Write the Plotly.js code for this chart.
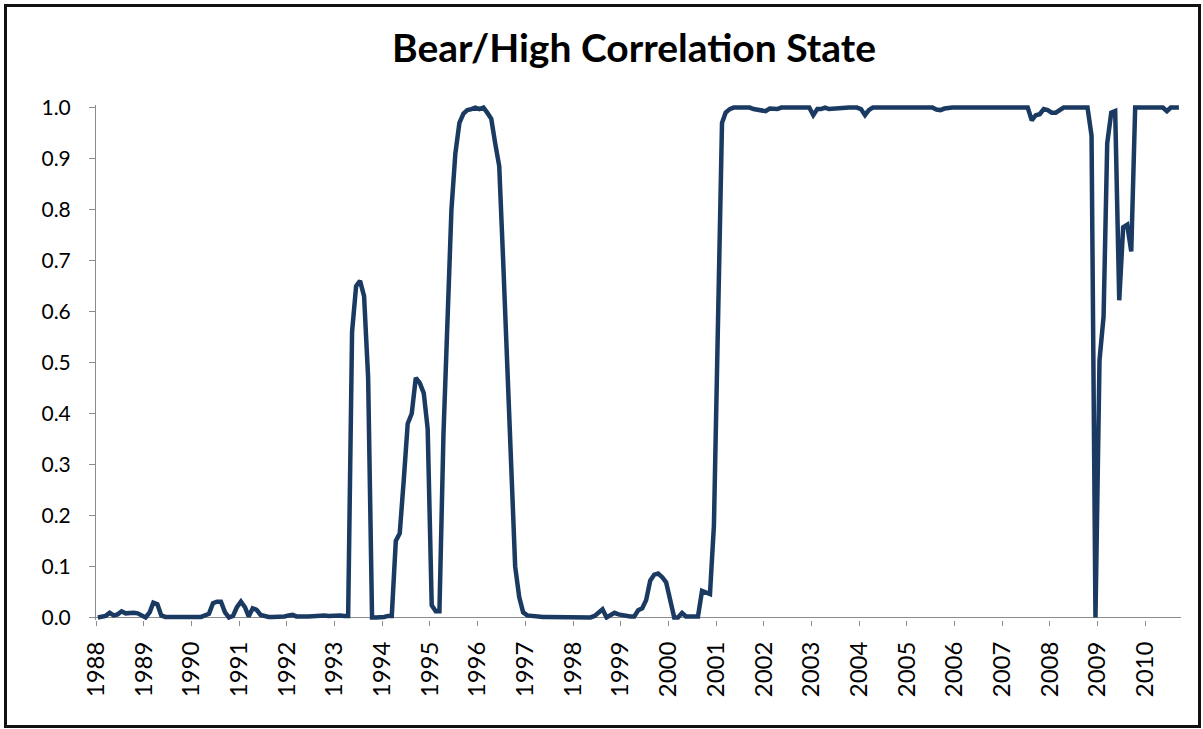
<!DOCTYPE html>
<html>
<head>
<meta charset="utf-8">
<script src="https://cdn.plot.ly/plotly-3.0.1.min.js"></script>
<style>
  html, body { margin: 0; padding: 0; background: #ffffff; }
  #wrap { position: relative; width: 1203px; height: 729px; }
  #chart { position: absolute; left: 0; top: 0; width: 1203px; height: 729px; }
  #frame { position: absolute; left: 4px; top: 4px; width: 1197px; height: 724px;
           box-sizing: border-box; border: 3px solid #111111; pointer-events: none; }
</style>
</head>
<body>
<div id="wrap">
  <div id="chart"></div>
  <div id="frame"></div>
</div>
<script>
// Monthly probability of the Bear/High Correlation state (Jan 1988 - Sep 2010)
const years = [1988, 1989, 1990, 1991, 1992, 1993, 1994, 1995, 1996, 1997, 1998,
               1999, 2000, 2001, 2002, 2003, 2004, 2005, 2006, 2007, 2008, 2009, 2010];

const v1988 = [0.000, 0.002, 0.003, 0.009, 0.004, 0.006, 0.012, 0.008, 0.009, 0.009, 0.008, 0.004];
const v1989 = [0.000, 0.010, 0.029, 0.026, 0.004, 0.001, 0.001, 0.001, 0.001, 0.001, 0.001, 0.001];
const v1990 = [0.001, 0.001, 0.001, 0.004, 0.007, 0.028, 0.031, 0.031, 0.010, 0.000, 0.003, 0.020];
const v1991 = [0.031, 0.020, 0.002, 0.018, 0.015, 0.005, 0.002, 0.001, 0.001, 0.001, 0.002, 0.002];
const v1992 = [0.004, 0.005, 0.002, 0.001, 0.002, 0.002, 0.003, 0.002, 0.004, 0.004, 0.003, 0.004];
const v1993 = [0.005, 0.004, 0.003, 0.003, 0.560, 0.650, 0.660, 0.630, 0.470, 0.000, 0.000, 0.000];
const v1994 = [0.001, 0.003, 0.003, 0.150, 0.165, 0.270, 0.380, 0.400, 0.470, 0.460, 0.440, 0.370];
const v1995 = [0.024, 0.012, 0.012, 0.360, 0.600, 0.800, 0.910, 0.970, 0.988, 0.995, 0.997, 1.000];
const v1996 = [0.997, 1.000, 0.990, 0.978, 0.930, 0.885, 0.700, 0.500, 0.300, 0.100, 0.040, 0.010];
const v1997 = [0.004, 0.003, 0.001, 0.001, 0.001, 0.001, 0.001, 0.001, 0.001, 0.000, 0.001, 0.001];
const v1998 = [0.001, 0.001, 0.001, 0.001, 0.000, 0.003, 0.010, 0.016, 0.000, 0.005, 0.009, 0.006];
const v1999 = [0.004, 0.003, 0.002, 0.002, 0.014, 0.018, 0.034, 0.072, 0.084, 0.086, 0.079, 0.069];
const v2000 = [0.030, 0.000, 0.000, 0.009, 0.002, 0.002, 0.002, 0.002, 0.052, 0.050, 0.046, 0.180];
const v2001 = [0.630, 0.970, 0.990, 0.997, 1.000, 1.000, 1.000, 1.000, 1.000, 0.997, 0.996, 0.994];
const v2002 = [0.993, 0.998, 0.997, 0.997, 1.000, 1.000, 1.000, 1.000, 1.000, 1.000, 1.000, 1.000];
const v2003 = [0.985, 0.997, 0.997, 1.000, 0.997, 0.998, 0.997, 1.000, 1.000, 1.000, 1.000, 1.000];
const v2004 = [0.997, 0.985, 0.995, 1.000, 1.000, 1.000, 1.000, 1.000, 1.000, 1.000, 1.000, 1.000];
const v2005 = [1.000, 1.000, 1.000, 1.000, 1.000, 1.000, 1.000, 0.996, 0.995, 0.998, 1.000, 1.000];
const v2006 = [1.000, 1.000, 1.000, 1.000, 1.000, 1.000, 1.000, 1.000, 1.000, 1.000, 1.000, 1.000];
const v2007 = [1.000, 1.000, 1.000, 1.000, 1.000, 1.000, 1.000, 0.975, 0.985, 0.987, 0.997, 0.995];
const v2008 = [0.990, 0.990, 0.995, 1.000, 1.000, 1.000, 1.000, 1.000, 1.000, 1.000, 0.945, 0.000];
const v2009 = [0.505, 0.590, 0.930, 0.990, 0.993, 0.622, 0.765, 0.770, 0.718, 1.000, 1.000, 1.000];
const v2010 = [1.000, 1.000, 1.000, 1.000, 1.000, 0.993, 1.000, 1.000, 1.000];

const yTickVals = [0, 0.1, 0.2, 0.3, 0.4, 0.5, 0.6, 0.7, 0.8, 0.9, 1.0];
const yTickText = ["0.0", "0.1", "0.2", "0.3", "0.4", "0.5", "0.6", "0.7", "0.8", "0.9", "1.0"];

const byYear = [v1988, v1989, v1990, v1991, v1992, v1993, v1994, v1995, v1996, v1997, v1998,
                v1999, v2000, v2001, v2002, v2003, v2004, v2005, v2006, v2007, v2008, v2009, v2010];

const xs = [];
const ys = [];
years.forEach(function (yr, i) {
  byYear[i].forEach(function (val, m) {
    const mm = String(m + 1).padStart(2, "0");
    xs.push(yr + "-" + mm + "-15");
    ys.push(val);
  });
});

const trace = {
  type: "scatter",
  mode: "lines",
  x: xs,
  y: ys,
  line: { color: "#1b3a62", width: 4.5 },
  hoverinfo: "x+y"
};

const axisGray = "#8c8c8c";
const layout = {
  width: 1203,
  height: 729,
  paper_bgcolor: "#ffffff",
  plot_bgcolor: "#ffffff",
  margin: { l: 96, r: 22, t: 105, b: 109 },
  showlegend: false,
  font: { family: "Lato, 'Open Sans', sans-serif", color: "#000000" },
  title: {
    text: "<b>Bear/High Correlation State</b>",
    font: { family: "Lato, 'Open Sans', sans-serif", size: 39, color: "#000000" },
    x: 0.527, xanchor: "center",
    y: 0.934, yanchor: "middle", yref: "container"
  },
  xaxis: {
    type: "date",
    range: ["1988-01-01", "2010-10-01"],
    tick0: "1988-01-01",
    dtick: "M12",
    tickformat: "%Y",
    tickangle: -90,
    ticks: "outside",
    ticklen: 5,
    tickcolor: axisGray,
    tickwidth: 1,
    showline: false,
    showgrid: false,
    zeroline: false,
    tickfont: { family: "Lato, 'Open Sans', sans-serif", size: 24, color: "#000000" },
    ticklabelstandoff: 6
  },
  yaxis: {
    range: [-0.005, 1.005],
    tickmode: "array",
    tickvals: yTickVals,
    ticktext: yTickText,
    ticks: "outside",
    ticklen: 6,
    tickcolor: axisGray,
    tickwidth: 1,
    showline: true,
    linecolor: axisGray,
    linewidth: 1,
    showgrid: false,
    zeroline: true,
    zerolinecolor: axisGray,
    zerolinewidth: 1,
    tickfont: { family: "Lato, 'Open Sans', sans-serif", size: 21, color: "#000000" },
    ticklabelstandoff: 14
  }
};

Plotly.newPlot("chart", [trace], layout, { displayModeBar: false, staticPlot: true });
</script>
</body>
</html>
